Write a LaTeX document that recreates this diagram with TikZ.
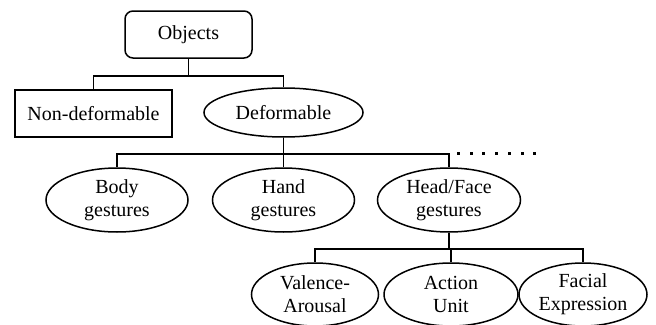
\documentclass[tikz,border=0pt]{standalone}
\usepackage{fontspec}
\setmainfont{Liberation Serif}
\usetikzlibrary{shapes.geometric}

\begin{document}
\begin{tikzpicture}[x=1pt, y=-1pt,
  every node/.style={font=\fontsize{20}{23}\selectfont, align=center, inner sep=0pt},
  rbox/.style={draw, line width=1.5pt, minimum height=47pt},
  oval/.style={draw, ellipse, line width=1.5pt},
  link/.style={line width=1.5pt}
]
\useasboundingbox (0,0) rectangle (656,324);
% top level
\node[rbox, rounded corners=8pt, minimum width=127pt] (objects) at (188.5,34.5) {Objects};
\node[rbox, minimum width=157pt] (nondef) at (93.5,113.5) {Non-deformable};
\node[oval, minimum width=159pt, minimum height=49pt] (deform) at (283.5,112.5) {Deformable};
% gestures
\node[oval, minimum width=142pt, minimum height=64pt] (body) at (117,200) {Body\\gestures};
\node[oval, minimum width=142pt, minimum height=64pt] (hand) at (283.5,200) {Hand\\gestures};
\node[oval, minimum width=143pt, minimum height=64pt] (head) at (449,200) {Head/Face\\gestures};
% face analysis
\node[oval, minimum width=127pt, minimum height=63pt] (valence) at (315,294.5) {Valence-\\Arousal};
\node[oval, minimum width=134pt, minimum height=63pt] (action) at (451,294.5) {Action\\Unit};
\node[oval, minimum width=128pt, minimum height=63pt] (facial) at (583,294.5) {Facial\\Expression};

\draw[link] (objects.south) -- ++(0,17) -| (nondef.north);
\draw[link] (objects.south) -- ++(0,17) -| (deform.north);
\draw[link] (deform.south) -- ++(0,16) -| (body.north);
\draw[link] (deform.south) -- ++(0,16) -| (hand.north);
\draw[link] (deform.south) -- ++(0,16) -| (head.north);
\draw[link] (head.south) -- ++(0,16) -| (valence.north);
\draw[link] (head.south) -- ++(0,16) -| (action.north);
\draw[link] (head.south) -- ++(0,16) -| (facial.north);
% more categories
\foreach \i in {0,...,6}
  \fill ([xshift=9.5pt+12.7*\i pt]head.north |- deform.south) ++(-1.5,14.5) rectangle ++(3,3);
\end{tikzpicture}
\end{document}
